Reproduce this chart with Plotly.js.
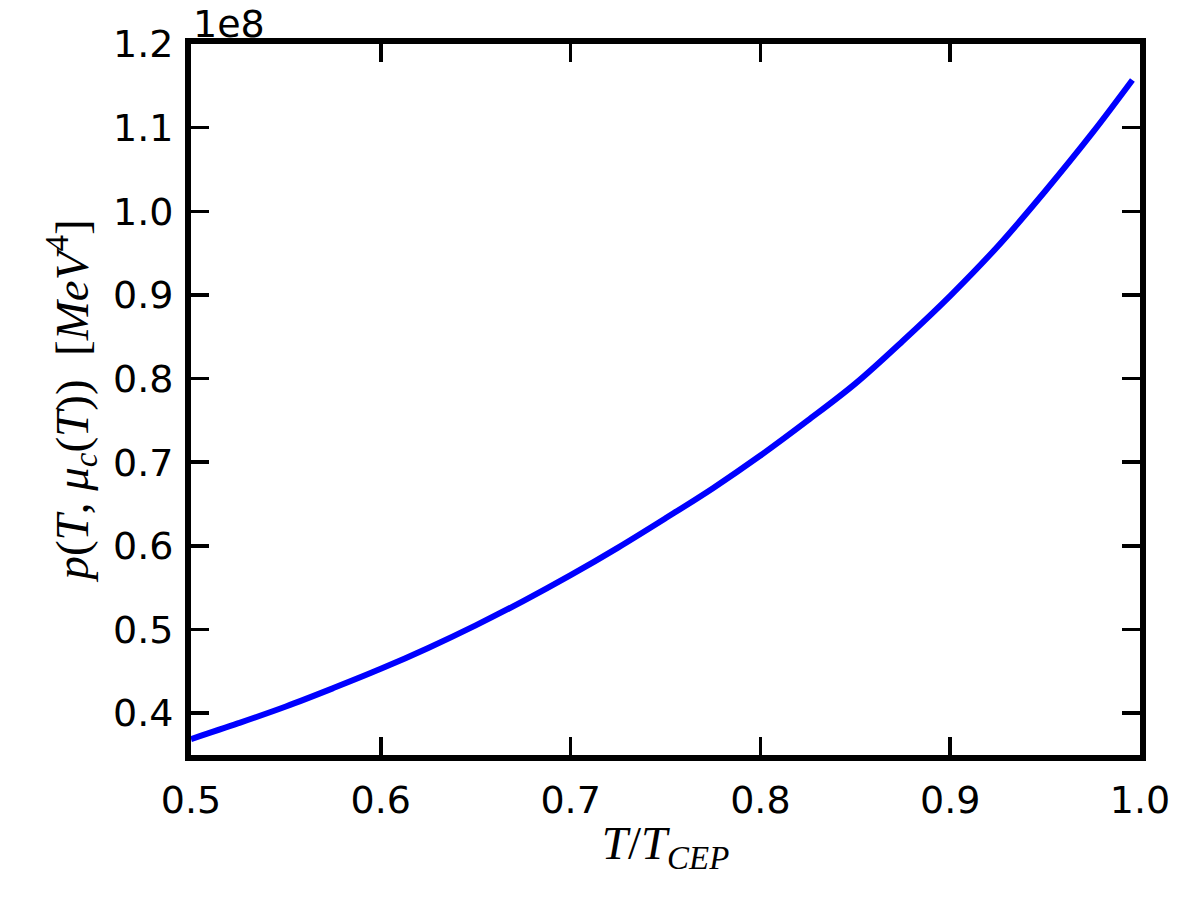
<!DOCTYPE html>
<html>
<head>
<meta charset="utf-8">
<script src="https://cdn.plot.ly/plotly-3.0.1.min.js"></script>
<style>html,body{margin:0;padding:0;background:#fff;}#chart{width:1200px;height:900px;}</style>
</head>
<body>
<div id="chart"></div>
<script>
// T / T_CEP
const tRatio = [0.500, 0.525, 0.550, 0.575, 0.600, 0.625, 0.650, 0.675, 0.700, 0.725,
                0.750, 0.775, 0.800, 0.825, 0.850, 0.875, 0.900, 0.925, 0.950, 0.975, 0.996];
// pressure in units of 1e8 MeV^4
const pressure = [0.369, 0.388, 0.408, 0.430, 0.453, 0.478, 0.505, 0.534, 0.565, 0.598,
                  0.633, 0.669, 0.708, 0.750, 0.794, 0.845, 0.899, 0.958, 1.024, 1.094, 1.157];
const xTickVals = [0.5, 0.6, 0.7, 0.8, 0.9, 1.0];
const xTickText = ["0.5", "0.6", "0.7", "0.8", "0.9", "1.0"];
const yTickVals = [0.4, 0.5, 0.6, 0.7, 0.8, 0.9, 1.0, 1.1, 1.2];
const yTickText = ["0.4", "0.5", "0.6", "0.7", "0.8", "0.9", "1.0", "1.1", "1.2"];
const offsetLabel = "1e8";

const tickFont = {family: "DejaVu Sans", size: 38, color: "#000"};
const titleFont = {family: "Liberation Serif", size: 47, color: "#000"};

const axisCommon = {
  showline: true, linewidth: 6, linecolor: "#000",
  mirror: "ticks", ticks: "inside", ticklen: 18, tickwidth: 3.5, tickcolor: "#000",
  showgrid: false, zeroline: false, tickfont: tickFont, tickmode: "array"
};

const data = [{
  x: tRatio, y: pressure, type: "scatter", mode: "lines",
  line: {color: "#0000ff", width: 6, shape: "spline", smoothing: 1}, hoverinfo: "skip"
}];

const layout = {
  width: 1200, height: 900,
  margin: {l: 191, r: 60, t: 44, b: 145},
  paper_bgcolor: "#fff", plot_bgcolor: "#fff",
  showlegend: false,
  xaxis: Object.assign({}, axisCommon, {
    range: [0.5, 1.0], tickvals: xTickVals, ticktext: xTickText, ticklabelstandoff: 6,
    title: {text: "<i>T</i>/<i>T</i><sub><i>CEP</i></sub>", font: titleFont, standoff: 8}
  }),
  yaxis: Object.assign({}, axisCommon, {
    range: [0.35, 1.2], tickvals: yTickVals, ticktext: yTickText, ticklabelstandoff: 4,
    title: {text: "<i>p</i>(<i>T</i>, <i>μ</i><sub><i>c</i></sub>(<i>T</i>))  [<i>MeV</i><sup>4</sup>]", font: titleFont, standoff: 12}
  }),
  annotations: [{
    text: offsetLabel, xref: "paper", yref: "paper", x: 0, y: 1,
    xanchor: "left", yanchor: "bottom", showarrow: false, yshift: -4,
    font: tickFont
  }]
};

Plotly.newPlot("chart", data, layout, {displayModeBar: false, staticPlot: true});
</script>
</body>
</html>
